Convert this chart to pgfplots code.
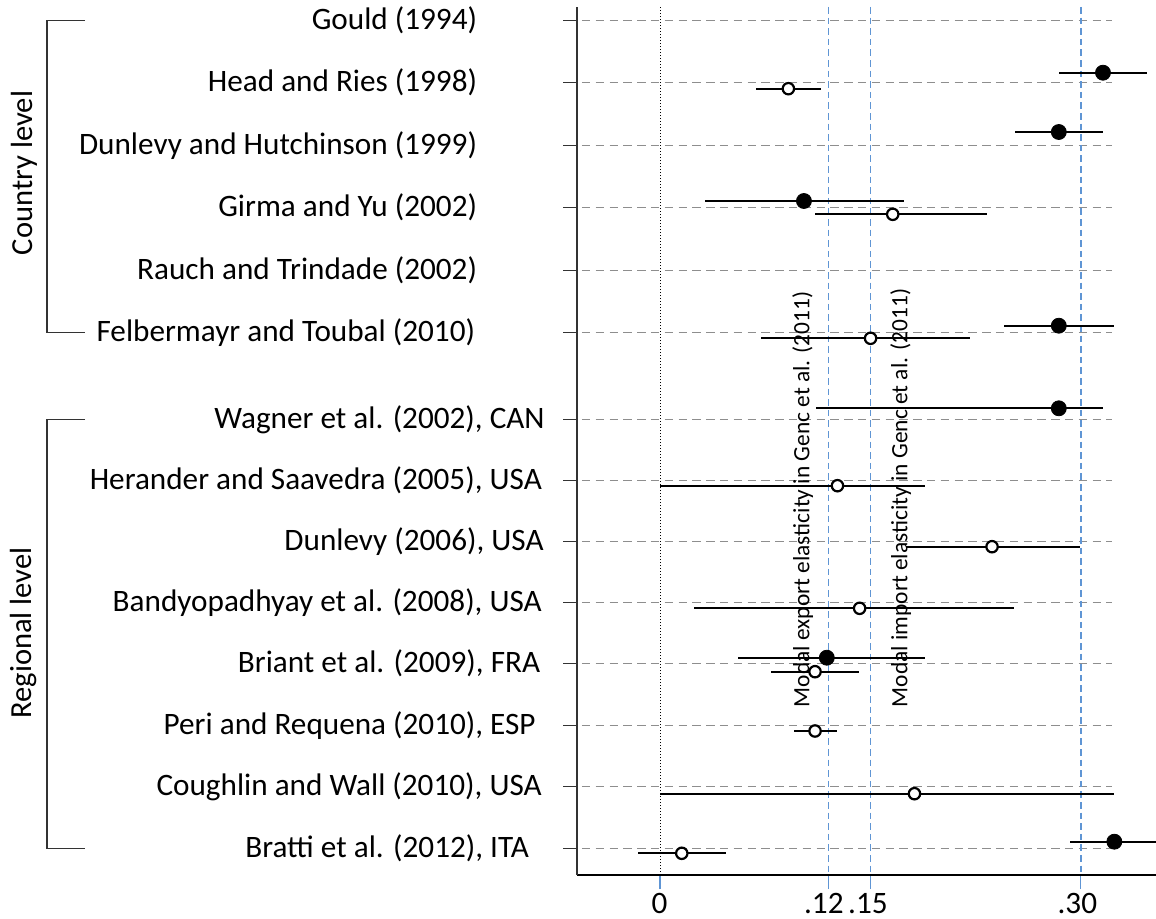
\documentclass[border=0pt]{standalone}
\usepackage{pgfplots}
\pgfplotsset{compat=1.18}
\usepackage{pgfplotstable}
\usepackage{fontspec}
\setmainfont{Carlito}
\definecolor{refblue}{HTML}{5F95D4}
\definecolor{gridgray}{HTML}{8E8E8E}
\definecolor{axisgray}{HTML}{333333}

% filled markers (est, lower, upper, vertical position)
\pgfplotstableread{
est lo hi y
0.3158 0.2845 0.3474 845.3
0.2843 0.2530 0.3155 786
0.1026 0.0318 0.1738 717
0.2843 0.2452 0.3239 592.3
0.2843 0.1113 0.3158 509.7
0.1189 0.0557 0.1892 260.3
0.3239 0.2924 0.3600 76.3
}\filledtab

% hollow markers
\pgfplotstableread{
est lo hi y
0.0915 0.0684 0.1148 829.3
0.1659 0.1108 0.2332 703.7
0.1501 0.0719 0.2213 579.7
0.1265 0.0000 0.1892 432.3
0.2367 0.1751 0.2992 371.3
0.1423 0.0239 0.2525 309.7
0.1105 0.0793 0.1420 246.3
0.1105 0.0956 0.1262 187
0.1814 0.0000 0.3239 124.3
0.0155 -0.0155 0.0470 64.7
}\hollowtab

\begin{document}
\begin{tikzpicture}
\useasboundingbox (0,0) rectangle (578pt,459pt);
\begin{axis}[
  at={(288.5pt,21.5pt)}, anchor=south west,
  scale only axis, width=289.5pt, height=434pt,
  xmin=-0.0592, xmax=0.3536, ymin=43, ymax=911,
  axis x line*=bottom, axis y line*=left,
  axis line style={-, line width=0.75pt},
  x axis line style={black}, y axis line style={axisgray},
  tick align=outside, major tick length=7pt,
  xtick={0,0.12,0.15,0.30},
  xticklabels={{\hspace*{3pt}0},{.12\hspace*{1pt}},{\hspace*{1pt}.15},.30},
  xtick style={refblue, line width=0.65pt},
  ytick={69.7,131.3,192.3,254.3,315.7,376.3,437.7,498.7,585.3,647.7,710.3,772.7,835.3,897.3},
  yticklabels={
    {Bratti et al. (2012), ITA\hspace*{7.85pt}},
    {Coughlin and Wall (2010), USA\hspace*{1.4pt}},
    {Peri and Requena (2010), ESP\hspace*{4.5pt}},
    {Briant et al. (2009), FRA\hspace*{2.25pt}},
    {Bandyopadhyay et al. (2008), USA\hspace*{1.4pt}},
    {Dunlevy (2006), USA\hspace*{0.5pt}},
    {Herander and Saavedra (2005), USA\hspace*{1.4pt}},
    {Wagner et al. (2002), CAN},
    {Felbermayr and Toubal (2010)\hspace*{34.75pt}},
    {Rauch and Trindade (2002)\hspace*{33.75pt}},
    {Girma and Yu (2002)\hspace*{33.75pt}},
    {Dunlevy and Hutchinson (1999)\hspace*{33.75pt}},
    {Head and Ries (1998)\hspace*{33.75pt}},
    {Gould (1994)\hspace*{33.75pt}}},
  ytick style={axisgray, line width=0.75pt},
  ticklabel style={font=\fontsize{15.6}{18}\selectfont},
  yticklabel style={anchor=east, inner sep=0pt},
  yticklabel shift=9pt,
  xticklabel style={anchor=base, inner sep=0pt, xshift=-1.75pt},
  xticklabel shift=12pt,
  /pgf/number format/assume math mode=true,
  clip=true,
]
% horizontal dashed grid lines
\addplot[gridgray, line width=0.75pt, dash pattern=on 4.2pt off 2.7pt, unbounded coords=jump] table {
x y
-0.0557 897.3
0.322 897.3
nan nan
-0.0557 835.3
0.322 835.3
nan nan
-0.0557 772.7
0.322 772.7
nan nan
-0.0557 710.3
0.322 710.3
nan nan
-0.0557 647.7
0.322 647.7
nan nan
-0.0557 585.3
0.322 585.3
nan nan
-0.0557 498.7
0.322 498.7
nan nan
-0.0557 437.7
0.322 437.7
nan nan
-0.0557 376.3
0.322 376.3
nan nan
-0.0557 315.7
0.322 315.7
nan nan
-0.0557 254.3
0.322 254.3
nan nan
-0.0557 192.3
0.322 192.3
nan nan
-0.0557 131.3
0.322 131.3
nan nan
-0.0557 69.7
0.322 69.7
};
% zero line
\addplot[black, line width=0.5pt, dash pattern=on 0.6pt off 0.9pt] coordinates {(0,43) (0,911)};
% reference lines
\addplot[refblue, line width=0.7pt, dash pattern=on 3.3pt off 2pt, unbounded coords=jump] table {
x y
0.12 911
0.12 43
nan nan
0.15 911
0.15 43
nan nan
0.3002 911
0.3002 43
};
% confidence intervals
\addplot[only marks, mark=none, error bars/.cd, x dir=both, x explicit, error mark=none,
  error bar style={black, line width=0.85pt, solid}]
  table[x=est, y=y, x error plus expr=\thisrow{hi}-\thisrow{est}, x error minus expr=\thisrow{est}-\thisrow{lo}] {\filledtab};
\addplot[only marks, mark=none, error bars/.cd, x dir=both, x explicit, error mark=none,
  error bar style={black, line width=0.85pt, solid}]
  table[x=est, y=y, x error plus expr=\thisrow{hi}-\thisrow{est}, x error minus expr=\thisrow{est}-\thisrow{lo}] {\hollowtab};
% markers
\addplot[only marks, mark=*, mark size=3.75pt, mark options={fill=black, draw=black, solid}] table[x=est, y=y] {\filledtab};
\addplot[only marks, mark=*, mark size=2.85pt, mark options={fill=white, draw=black, line width=1.1pt, solid}] table[x=est, y=y] {\hollowtab};
% annotations
\node[rotate=90, anchor=base west, inner sep=0pt, font=\fontsize{11.7}{14}\selectfont] at (axis cs:0.1064,210.5) {Modal export elasticity in Genc et al. (2011)};
\node[rotate=90, anchor=base west, inner sep=0pt, font=\fontsize{11.7}{14}\selectfont] at (axis cs:0.1764,210.5) {Modal import elasticity in Genc et al. (2011)};
\end{axis}
% group brackets
\draw[axisgray, line width=0.6pt] (42.5pt,448.65pt) -- (23.5pt,448.65pt) -- (23.5pt,292.65pt) -- (42.5pt,292.65pt);
\draw[axisgray, line width=0.6pt] (42.5pt,249.35pt) -- (23.5pt,249.35pt) -- (23.5pt,34.85pt) -- (42.5pt,34.85pt);
\node[rotate=90, inner sep=0pt, font=\fontsize{15.3}{18}\selectfont] at (12pt,372.5pt) {Country level};
\node[rotate=90, inner sep=0pt, font=\fontsize{15.3}{18}\selectfont] at (12pt,142.5pt) {Regional level};
\end{tikzpicture}
\end{document}
